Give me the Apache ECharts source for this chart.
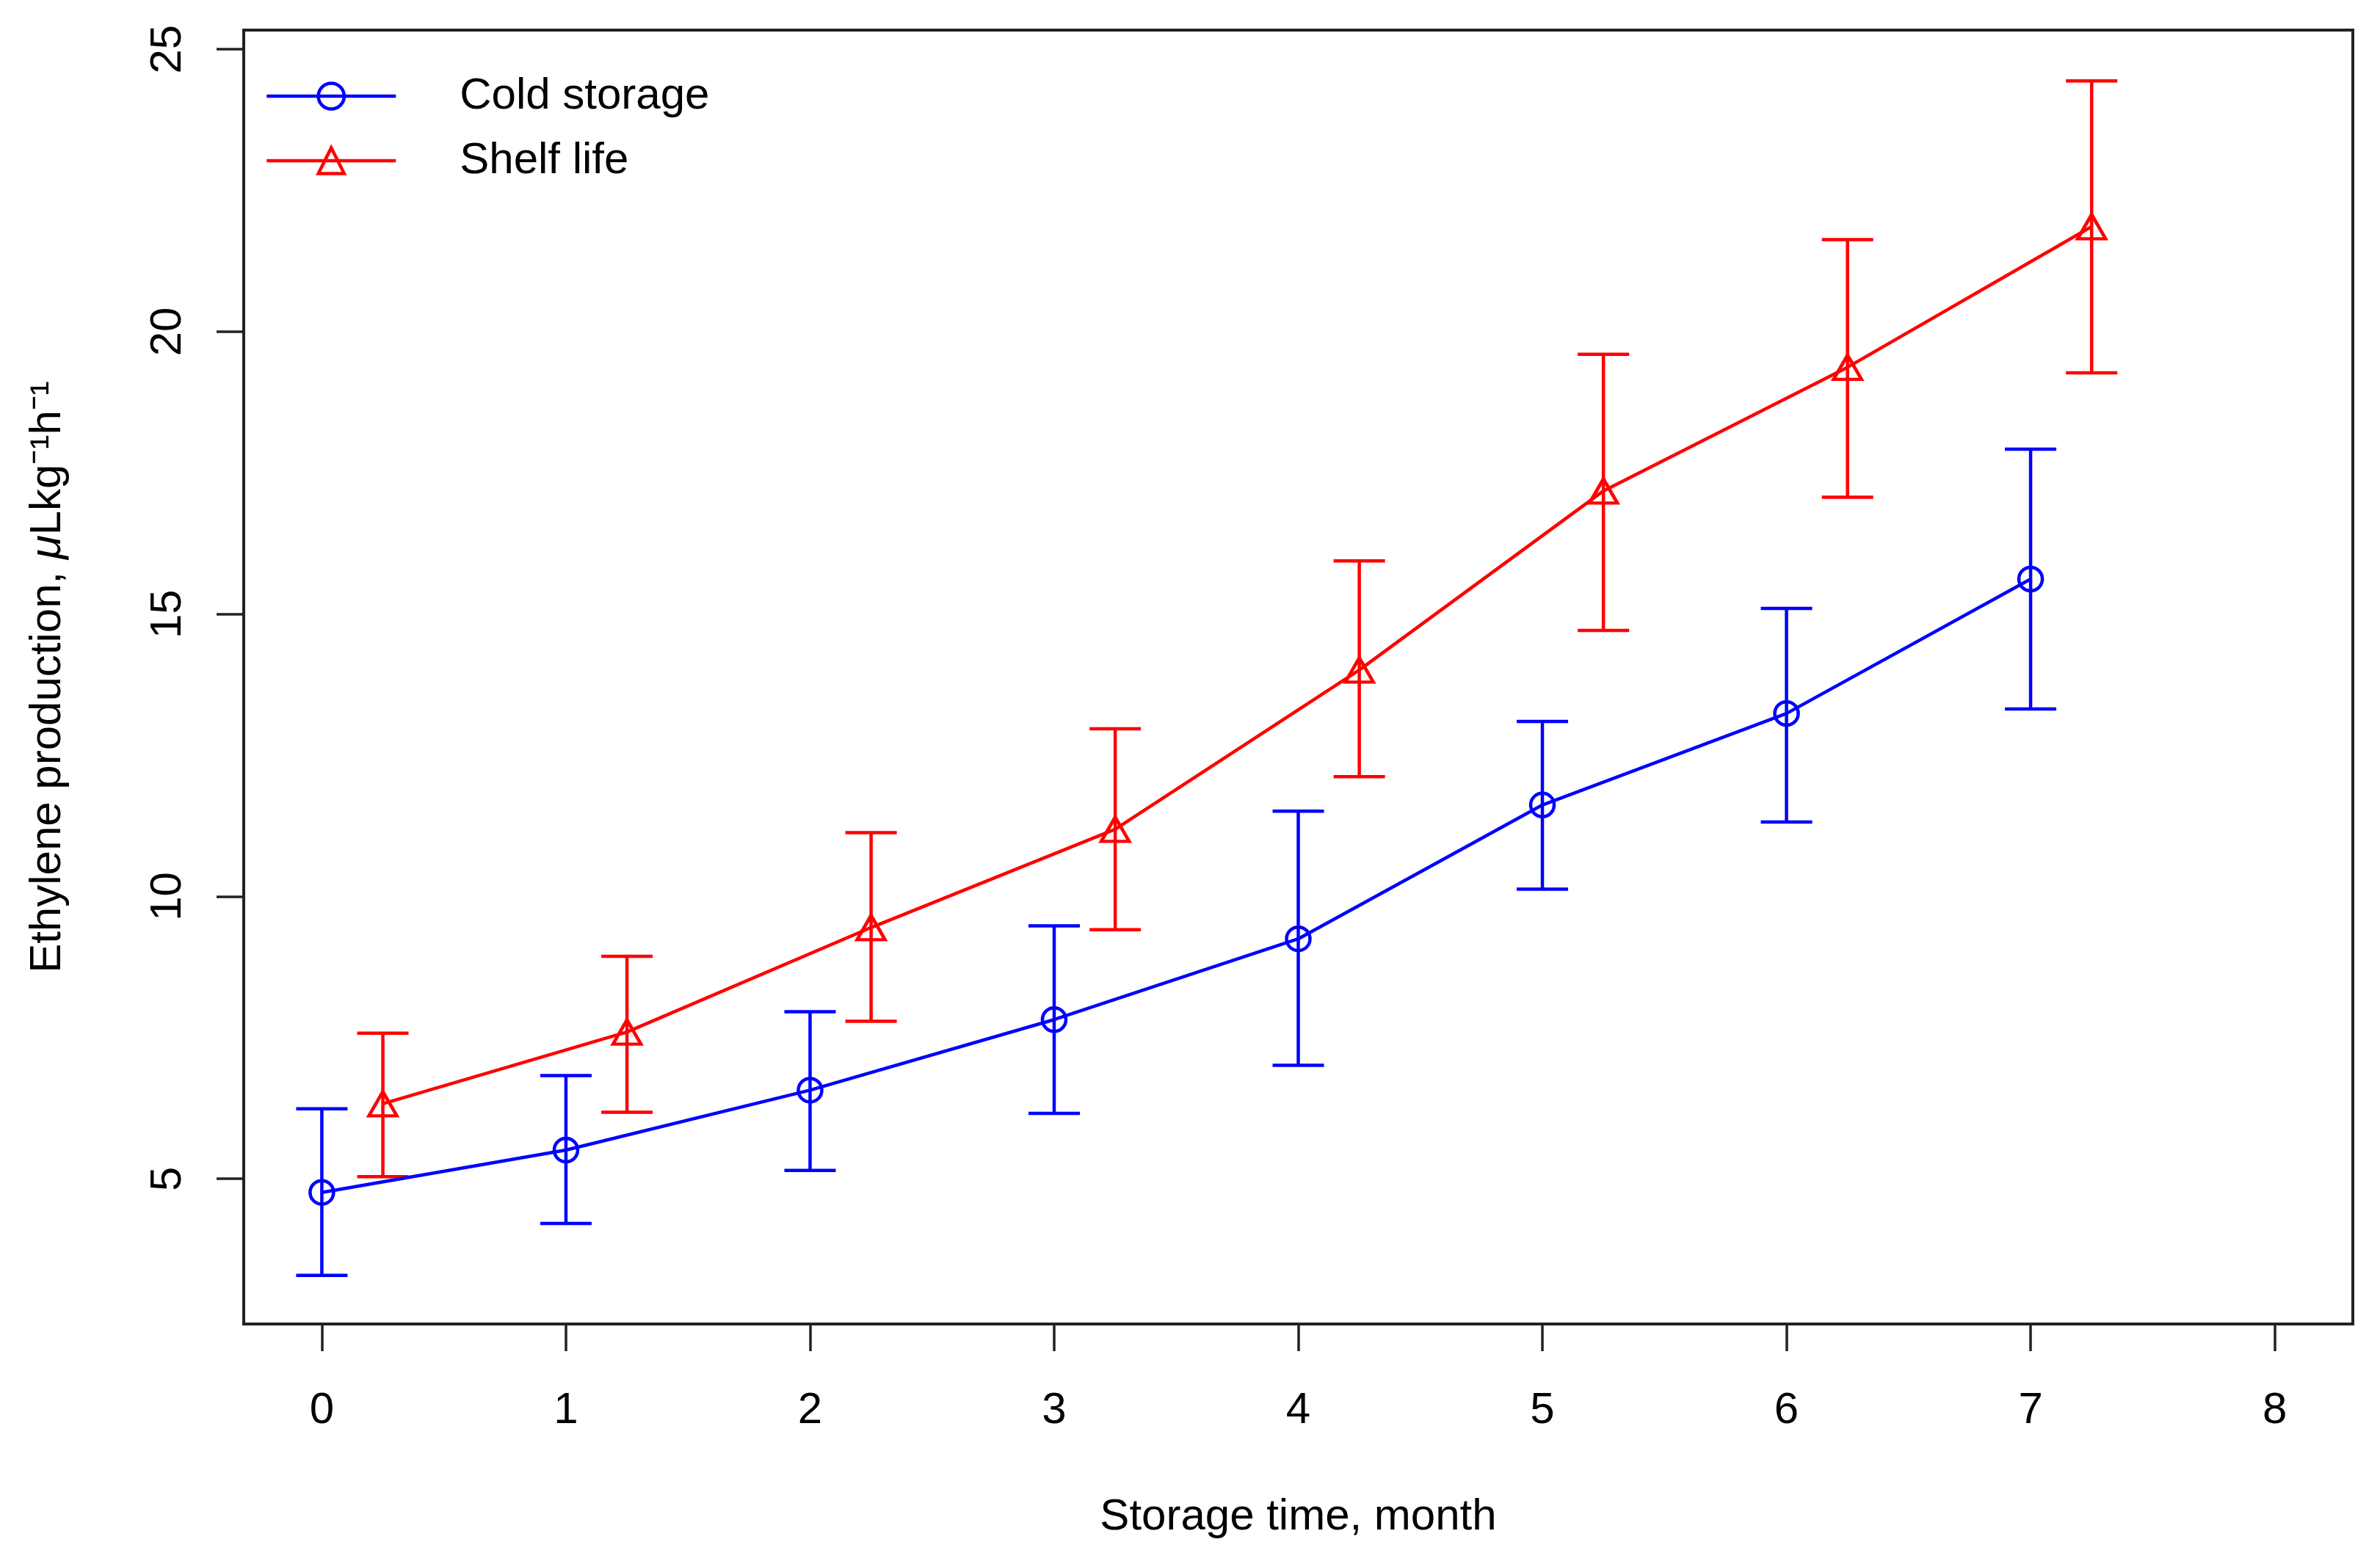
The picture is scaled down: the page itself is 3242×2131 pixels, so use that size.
<!DOCTYPE html>
<html>
<head>
<meta charset="utf-8">
<script src="https://cdn.jsdelivr.net/npm/echarts@6/dist/echarts.min.js"></script>
<style>
  html, body { margin: 0; padding: 0; background: #fff; }
  #main { width: 3242px; height: 2131px; }
</style>
</head>
<body>
<div id="main"></div>
<script>
// storage time (month) for each series; shelf life points are shifted right by a quarter
const coldMonths = [0, 1, 2, 3, 4, 5, 6, 7]
const shelfMonths = [0.25, 1.25, 2.25, 3.25, 4.25, 5.25, 6.25, 7.25]

// ethylene production, uL kg-1 h-1
const coldMean = [4.76, 5.51, 6.57, 7.82, 9.25, 11.62, 13.24, 15.62]
const coldLower = [3.29, 4.21, 5.15, 6.16, 7.01, 10.13, 11.32, 13.32]
const coldUpper = [6.24, 6.83, 7.96, 9.48, 11.51, 13.10, 15.10, 17.92]

const shelfMean = [6.33, 7.60, 9.45, 11.19, 14.01, 17.18, 19.37, 21.86]
const shelfLower = [5.04, 6.18, 7.79, 9.41, 12.12, 14.71, 17.07, 19.27]
const shelfUpper = [7.58, 8.94, 11.13, 12.97, 15.94, 19.60, 21.63, 24.44]

const xTicks = [0, 1, 2, 3, 4, 5, 6, 7, 8]
const yTicks = [5, 10, 15, 20, 25]

const BLUE = '#0000ff'
const RED = '#ff0000'
const FONT = 'Liberation Sans'
const LW = 4.5

function pairs(xs, ys) {
  return xs.map((x, i) => [x, ys[i]])
}

function errorBars(xs, lo, hi) {
  return xs.map((x, i) => [x, lo[i], hi[i]])
}

function errorBarSeries(name, data, color) {
  return {
    name: name,
    type: 'custom',
    z: 2,
    data: data,
    encode: { x: 0, y: [1, 2] },
    renderItem: function (params, api) {
      const x = api.value(0)
      const top = api.coord([x, api.value(2)])
      const bot = api.coord([x, api.value(1)])
      const hw = 35
      const style = { stroke: color, lineWidth: LW }
      return {
        type: 'group',
        children: [
          { type: 'line', shape: { x1: top[0], y1: top[1], x2: bot[0], y2: bot[1] }, style: style },
          { type: 'line', shape: { x1: top[0] - hw, y1: top[1], x2: top[0] + hw, y2: top[1] }, style: style },
          { type: 'line', shape: { x1: bot[0] - hw, y1: bot[1], x2: bot[0] + hw, y2: bot[1] }, style: style }
        ]
      }
    }
  }
}

const chart = echarts.init(document.getElementById('main'))
const option = {
  animation: false,
  backgroundColor: '#fff',
  textStyle: { fontFamily: FONT, color: '#000' },
  grid: {
    left: 332,
    top: 41,
    right: 37,
    bottom: 327,
    show: true,
    borderColor: '#222',
    borderWidth: 4,
    backgroundColor: 'transparent'
  },
  legend: {
    orient: 'vertical',
    left: 356,
    top: 96,
    itemWidth: 176,
    itemHeight: 44,
    itemGap: 28,
    data: ['Cold storage', 'Shelf life'],
    lineStyle: { width: LW },
    itemStyle: { borderWidth: LW },
    textStyle: { fontFamily: FONT, fontSize: 60, color: '#000', padding: [0, 0, 0, 82] }
  },
  xAxis: {
    type: 'value',
    min: -0.32,
    max: 8.32,
    name: 'Storage time, month',
    nameLocation: 'middle',
    nameGap: 233,
    nameTextStyle: { fontFamily: FONT, fontSize: 60, color: '#000' },
    axisLine: { show: false, onZero: false },
    splitLine: { show: false },
    axisTick: {
      show: true,
      inside: false,
      length: 37,
      customValues: xTicks,
      lineStyle: { color: '#222', width: 3.5 }
    },
    axisLabel: {
      customValues: xTicks,
      margin: 88,
      fontFamily: FONT,
      fontSize: 60,
      color: '#000'
    }
  },
  yAxis: {
    type: 'value',
    min: 2.43,
    max: 25.34,
    name: '{n|Ethylene production, }{i|μ}{n|Lkg⁻¹h⁻¹}',
    nameLocation: 'middle',
    nameRotate: 90,
    nameGap: 237,
    nameTextStyle: {
      fontFamily: FONT,
      fontSize: 60,
      color: '#000',
      rich: {
        n: { fontFamily: FONT, fontSize: 60, color: '#000' },
        i: { fontFamily: FONT, fontSize: 60, color: '#000', fontStyle: 'italic' }
      }
    },
    axisLine: { show: false, onZero: false },
    splitLine: { show: false },
    axisTick: {
      show: true,
      inside: false,
      length: 37,
      customValues: yTicks,
      lineStyle: { color: '#222', width: 3.5 }
    },
    axisLabel: {
      customValues: yTicks,
      rotate: 90,
      margin: 73,
      fontFamily: FONT,
      fontSize: 60,
      color: '#000'
    }
  },
  series: [
    errorBarSeries('Cold storage SD', errorBars(coldMonths, coldLower, coldUpper), BLUE),
    errorBarSeries('Shelf life SD', errorBars(shelfMonths, shelfLower, shelfUpper), RED),
    {
      name: 'Cold storage',
      type: 'line',
      z: 3,
      data: pairs(coldMonths, coldMean),
      symbol: 'circle',
      symbolSize: 32,
      lineStyle: { color: BLUE, width: LW },
      itemStyle: { color: 'transparent', borderColor: BLUE, borderWidth: LW }
    },
    {
      name: 'Shelf life',
      type: 'line',
      z: 3,
      data: pairs(shelfMonths, shelfMean),
      symbol: 'triangle',
      symbolSize: [38, 33],
      lineStyle: { color: RED, width: LW },
      itemStyle: { color: 'transparent', borderColor: RED, borderWidth: LW }
    }
  ]
}
chart.setOption(option)
</script>
</body>
</html>
